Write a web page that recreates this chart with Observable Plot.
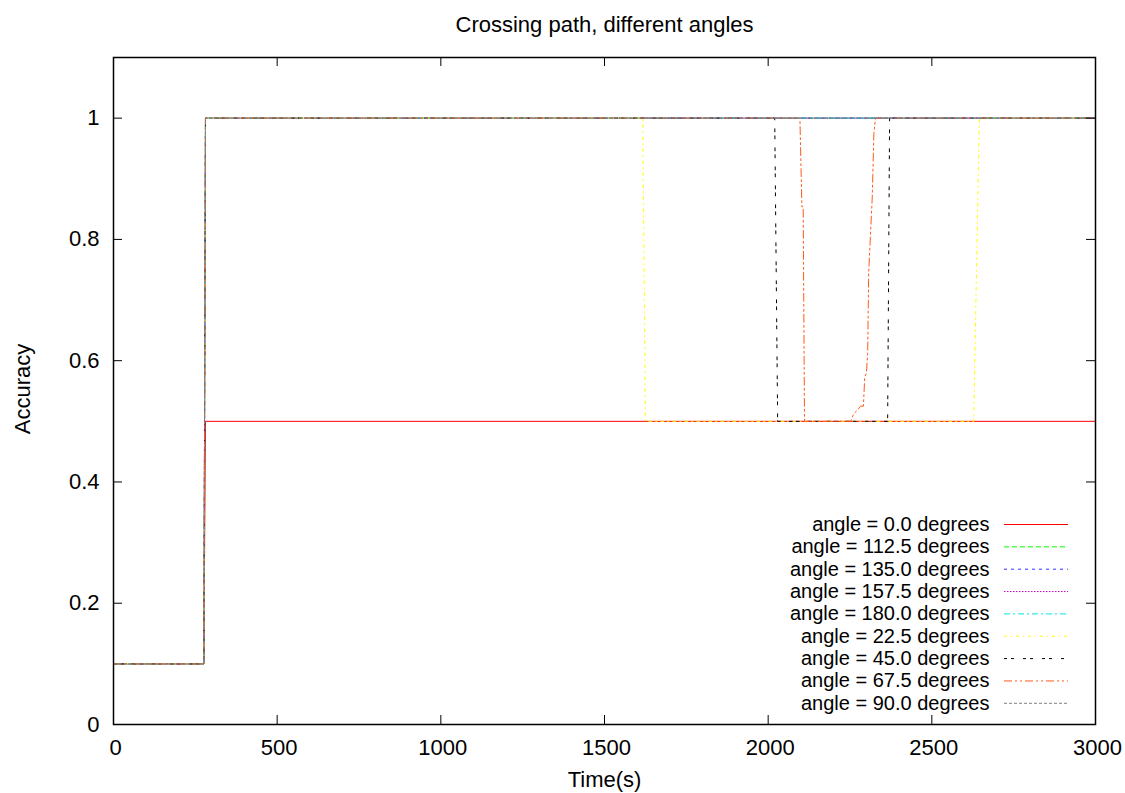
<!DOCTYPE html>
<html>
<head>
<meta charset="utf-8">
<script src="https://cdn.jsdelivr.net/npm/d3@7"></script>
<script src="https://cdn.jsdelivr.net/npm/@observablehq/plot@0.6"></script>
<style>
  html, body { margin: 0; padding: 0; background: #fff; }
</style>
</head>
<body>
<div id="chart"></div>
<script>
// ---- data ----
const titleText = "Crossing path, different angles";
const xLabel = "Time(s)";
const yLabel = "Accuracy";
const xTicks = [0, 500, 1000, 1500, 2000, 2500, 3000];
const yTicks = [0, 0.2, 0.4, 0.6, 0.8, 1];

const seriesLabels = [
  "angle = 0.0 degrees",
  "angle = 112.5 degrees",
  "angle = 135.0 degrees",
  "angle = 157.5 degrees",
  "angle = 180.0 degrees",
  "angle = 22.5 degrees",
  "angle = 45.0 degrees",
  "angle = 67.5 degrees",
  "angle = 90.0 degrees"
];

const time_0   = [0, 276, 281, 3000];
const acc_0    = [0.1, 0.1, 0.5, 0.5];
const time_112 = [0, 276, 281, 3000];
const acc_112  = [0.1, 0.1, 1, 1];
const time_135 = [0, 276, 281, 3000];
const acc_135  = [0.1, 0.1, 1, 1];
const time_157 = [0, 276, 281, 3000];
const acc_157  = [0.1, 0.1, 1, 1];
const time_180 = [0, 276, 281, 3000];
const acc_180  = [0.1, 0.1, 1, 1];
const time_22  = [0, 276, 281, 1617, 1625, 2628, 2644, 2646, 3000];
const acc_22   = [0.1, 0.1, 1, 1, 0.5, 0.5, 0.97, 1, 1];
const time_45  = [0, 276, 281, 2020, 2029, 2365, 2371, 3000];
const acc_45   = [0.1, 0.1, 1, 1, 0.5, 0.5, 1, 1];
const time_67  = [0, 276, 281, 2097, 2103, 2107, 2111, 2252, 2262, 2272, 2282, 2291, 2295, 2300, 2304, 2307, 2318, 2323, 2328, 3000];
const acc_67   = [0.1, 0.1, 1, 1, 0.854, 0.854, 0.5, 0.5, 0.513, 0.518, 0.525, 0.525, 0.573, 0.579, 0.612, 0.744, 0.87, 0.975, 1, 1];
const time_90  = [0, 276, 281, 3000];
const acc_90   = [0.1, 0.1, 1, 1];

const seriesTimes = [time_0, time_112, time_135, time_157, time_180, time_22, time_45, time_67, time_90];
const seriesAcc   = [acc_0, acc_112, acc_135, acc_157, acc_180, acc_22, acc_45, acc_67, acc_90];

// ---- styles ----
const colors = ["#ff0000", "#00ff00", "#3333ff", "#cc00cc", "#00e5e5", "#ffff00", "#000000", "#ff5a1a", "#808080"];
const dashes = ["none", "5,3", "3,4", "1.5,1.5", "6,3,2,3", "3,4,1,4", "3,4,3,9", "8,3,2,3,2,3", "3,2"];

const W = 1125, H = 793;
const mL = 113, mR = 30, mT = 57, mB = 69;
const plotW = W - mL - mR, plotH = H - mT - mB;
const tickLen = 9;
const frameMidY = (mT + (H - mB)) / 2;
const frameMidX = (mL + (W - mR)) / 2;

const lineMarks = seriesLabels.map((label, i) =>
  Plot.line(d3.zip(seriesTimes[i], seriesAcc[i]), {
    x: d => d[0], y: d => d[1],
    stroke: colors[i], strokeWidth: 1, strokeDasharray: dashes[i]
  })
);

const legendRow0 = 524, legendStep = 22.35;
const legendMarks = seriesLabels.flatMap((label, i) => {
  const rowY = legendRow0 + i * legendStep;
  return [
    Plot.text([label], {
      text: d => d, frameAnchor: "middle", textAnchor: "end", lineAnchor: "middle",
      fontSize: 20, dx: 989 - frameMidX, dy: rowY - frameMidY, fill: "black"
    }),
    Plot.ruleY([label], {
      y: null, stroke: colors[i], strokeWidth: 1, strokeDasharray: dashes[i],
      insetLeft: 1004 - mL, insetRight: (W - mR) - 1068, dy: rowY - frameMidY
    })
  ];
});

const chart = Plot.plot({
  width: W, height: H,
  marginLeft: mL, marginRight: mR, marginTop: mT, marginBottom: mB,
  style: { fontFamily: "'Liberation Sans', Arial, Helvetica, sans-serif", fontSize: "22px", background: "white", color: "black" },
  x: { domain: [0, 3000] },
  y: { domain: [0, 1.1] },
  marks: [
    ...lineMarks,
    Plot.frame({ stroke: "black", strokeWidth: 1.5 }),
    // inner ticks (gnuplot style, mirrored)
    Plot.tickX(xTicks, { x: d => d, stroke: "black", insetTop: plotH - tickLen }),
    Plot.tickX(xTicks, { x: d => d, stroke: "black", insetBottom: plotH - tickLen }),
    Plot.tickY(yTicks, { y: d => d, stroke: "black", insetRight: plotW - tickLen }),
    Plot.tickY(yTicks, { y: d => d, stroke: "black", insetLeft: plotW - tickLen }),
    Plot.axisX(xTicks, { anchor: "bottom", tickSize: 0, tickPadding: 15, label: null, dx: 2, tickFormat: d => String(d), fill: "black" }),
    Plot.axisY(yTicks, { anchor: "left", tickSize: 0, tickPadding: 14, label: null, tickFormat: d => String(d), fill: "black" }),
    ...legendMarks,
    Plot.text([titleText], { text: d => d, frameAnchor: "top", textAnchor: "middle", lineAnchor: "middle", dy: 24 - mT, fill: "black" }),
    Plot.text([xLabel], { text: d => d, frameAnchor: "bottom", textAnchor: "middle", lineAnchor: "middle", dy: 779 - (H - mB), fill: "black" }),
    Plot.text([yLabel], { text: d => d, frameAnchor: "left", textAnchor: "middle", lineAnchor: "middle", rotate: -90, dx: 22.5 - mL, dy: -2, fill: "black" })
  ]
});

document.getElementById("chart").appendChild(chart);
</script>
</body>
</html>
